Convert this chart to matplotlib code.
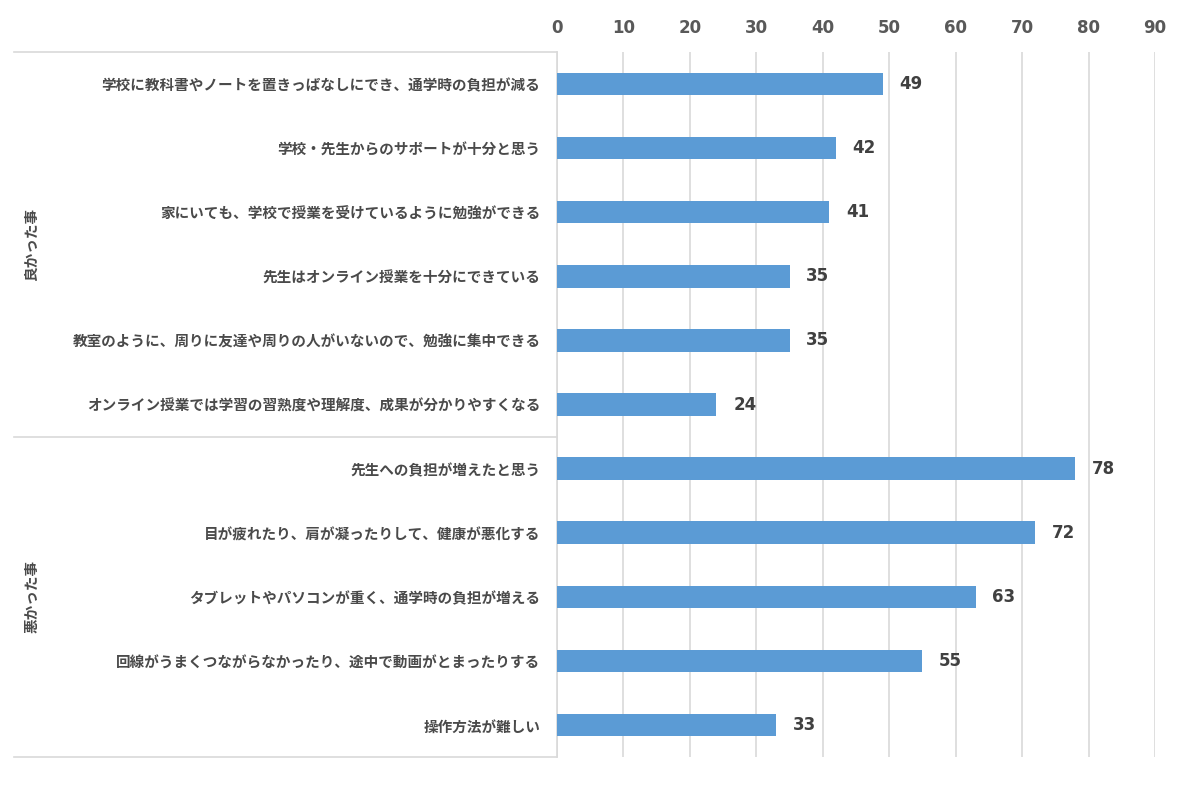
import matplotlib
matplotlib.use("Agg")
import matplotlib.pyplot as plt

plt.rcParams['font.family'] = ['Noto Sans CJK JP', 'DejaVu Sans']

# 項目（上から順）
categories = [
    "学校に教科書やノートを置きっぱなしにでき、通学時の負担が減る",
    "学校・先生からのサポートが十分と思う",
    "家にいても、学校で授業を受けているように勉強ができる",
    "先生はオンライン授業を十分にできている",
    "教室のように、周りに友達や周りの人がいないので、勉強に集中できる",
    "オンライン授業では学習の習熟度や理解度、成果が分かりやすくなる",
    "先生への負担が増えたと思う",
    "目が疲れたり、肩が凝ったりして、健康が悪化する",
    "タブレットやパソコンが重く、通学時の負担が増える",
    "回線がうまくつながらなかったり、途中で動画がとまったりする",
    "操作方法が難しい",
]
values = [49, 42, 41, 35, 35, 24, 78, 72, 63, 55, 33]
groups = ["良かった事", "悪かった事"]
group_sizes = [6, 5]
xticks = list(range(0, 100, 10))

bar_color = "#5B9BD5"
text_color = "#595959"
grid_color = "#D9D9D9"

fig = plt.figure(figsize=(12, 7.88), dpi=100)
ax = fig.add_axes([557 / 1200, 1 - 757 / 788, 598 / 1200, 705 / 788])

y = list(range(len(categories)))
ax.barh(y, values, height=0.35, color=bar_color, zorder=3)

for yi, v in zip(y, values):
    ax.annotate(str(v), (v, yi), xytext=(12, 0), textcoords="offset points",
                ha="left", va="center", fontsize=12, fontweight="bold",
                color="#404040", family="DejaVu Sans")

ax.set_xlim(0, 90)
ax.set_ylim(len(categories) - 0.5, -0.5)
ax.set_xticks(xticks)
ax.xaxis.tick_top()
ax.tick_params(axis="x", length=0, pad=11, labelsize=12, labelcolor=text_color)
for lab in ax.get_xticklabels():
    lab.set_fontweight("bold")
    lab.set_family("DejaVu Sans")
ax.set_yticks(y)
ax.set_yticklabels(categories, fontsize=10.5, color="#4a4a4a", fontweight="bold")
ax.tick_params(axis="y", length=0, pad=12)

ax.grid(axis="x", color=grid_color, linewidth=1.2, zorder=0)
for s in ["top", "right", "bottom"]:
    ax.spines[s].set_visible(False)
ax.spines["left"].set_color(grid_color)
ax.spines["left"].set_linewidth(1.2)

# グループの区切り線とラベル
trans = ax.get_yaxis_transform()
x_left = (14 - 557) / 598
start = -0.5
bounds = [start]
for n in group_sizes:
    start += n
    bounds.append(start)
for b in bounds:
    ax.plot([x_left, 0], [b, b], transform=trans, color=grid_color,
            linewidth=1.2, clip_on=False)
for g, lo, hi in zip(groups, bounds[:-1], bounds[1:]):
    ax.text((31 - 557) / 598, (lo + hi) / 2, g, transform=trans, rotation=90,
            ha="center", va="center", fontsize=10.5, color="#4a4a4a",
            fontweight="bold")

fig.savefig("out.png", dpi=100, facecolor="white")
